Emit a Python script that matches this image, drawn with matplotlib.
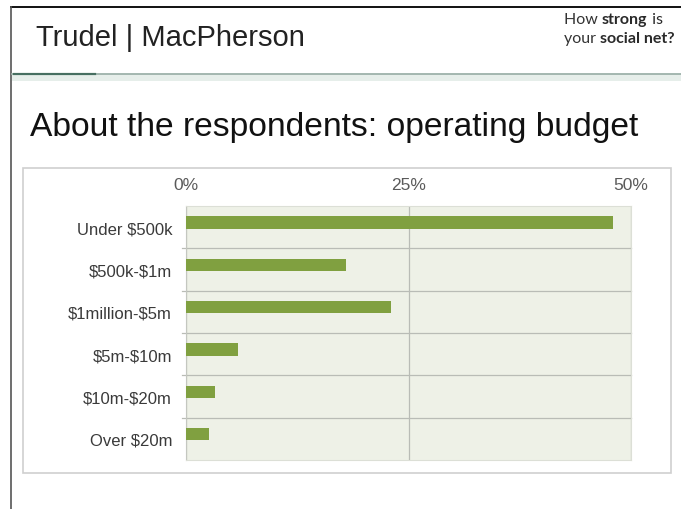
import matplotlib.pyplot as plt
from matplotlib.lines import Line2D
from matplotlib.patches import Rectangle

plt.rcParams['text.parse_math'] = False

# operating budget of the respondents, share in percent
categories = ['Under $500k', '$500k-$1m', '$1million-$5m', '$5m-$10m', '$10m-$20m', 'Over $20m']
shares = [48.0, 18.0, 23.0, 5.8, 3.3, 2.6]
tick_values = [0, 25, 50]
tick_labels = ['0%', '25%', '50%']

W, H = 681, 510
BAR = '#80a040'
PLOT_BG = '#eef1e7'
GRID = '#b9bcb6'
SANS = 'Liberation Sans'


def fx(x):
    return x / W


def fy(y):
    return 1 - y / H


def text_run(x, y, parts, size=11.5):
    # draw pieces of one line left to right, each placed after the previous
    prev = fig.text(fx(x), fy(y), parts[0][0], fontsize=size, color='#333333',
                    family='Lato', weight=parts[0][1], va='baseline', ha='left')
    for s, w in parts[1:]:
        prev = fig.add_artist(plt.Annotation(s, xy=(1, 0), xycoords=prev, va='bottom', ha='left',
                                             fontsize=size, color='#2a2a2a', family='Lato',
                                             weight=w))


fig = plt.figure(figsize=(W / 100, H / 100), dpi=100)
fig.patch.set_facecolor('white')

# slide frame: dark rule on top, thin line on the left
fig.add_artist(Line2D([fx(11), 1], [fy(8), fy(8)], color='#111111', lw=1.4))
fig.add_artist(Line2D([fx(11), fx(11)], [fy(8), 0], color='#555555', lw=1.2))

# header rule under the brand line
fig.add_artist(Rectangle((fx(12), fy(82)), 1, 7 / H, color='#e6eeea', lw=0, zorder=0))
fig.add_artist(Line2D([fx(12), 1], [fy(75), fy(75)], color='#9db2aa', lw=1.3))
fig.add_artist(Line2D([fx(14), fx(95)], [fy(75), fy(75)], color='#2f5d4d', lw=1.6, alpha=0.8))

fig.text(fx(36), fy(46), 'Trudel | MacPherson', fontsize=21, color='#222222',
         family=SANS, va='baseline', ha='left')

# tagline, mixed weights
text_run(564, 24, [('How ', 'normal'), ('strong', 'bold'), (' is', 'normal')])
text_run(564, 43, [('your ', 'normal'), ('social net?', 'bold')])

fig.text(fx(30), fy(136), 'About the respondents: operating budget', fontsize=24.2,
         color='#111111', family=SANS, va='baseline', ha='left')

# chart frame
fig.add_artist(Rectangle((fx(23), fy(474)), fx(671) - fx(23), fy(169) - fy(474),
                         fill=False, edgecolor='#cfcfcf', lw=1.2))

ax = fig.add_axes([fx(186), fy(461), fx(631) - fx(186), fy(207) - fy(461)])
ax.set_facecolor(PLOT_BG)
y = list(range(len(categories)))
# bars sit in the upper part of each category band
ax.barh([i - 0.11 for i in y], shares, height=0.29, color=BAR, zorder=3)
ax.set_xlim(0, 50)
ax.set_ylim(len(categories) - 0.5, -0.5)

ax.set_xticks(tick_values)
ax.set_xticklabels(tick_labels, family=SANS)
ax.xaxis.tick_top()
ax.tick_params(axis='x', length=0, pad=10, labelsize=12.5, labelcolor='#5a5a5a')
ax.set_yticks(y)
ax.set_yticklabels(categories, family=SANS)
ax.tick_params(axis='y', length=0, pad=10, labelsize=12, labelcolor='#3a3a3a')

ax.grid(axis='x', color=GRID, lw=0.9, zorder=1)
for b in [i + 0.5 for i in y[:-1]]:
    ax.axhline(b, xmin=-0.01, xmax=1, color=GRID, lw=0.9, clip_on=False, zorder=1)
for side in ['top', 'right', 'bottom']:
    ax.spines[side].set_color('#dcdfd6')
ax.spines['left'].set_color('#c4c7c0')

fig.savefig('out.png', dpi=100)
